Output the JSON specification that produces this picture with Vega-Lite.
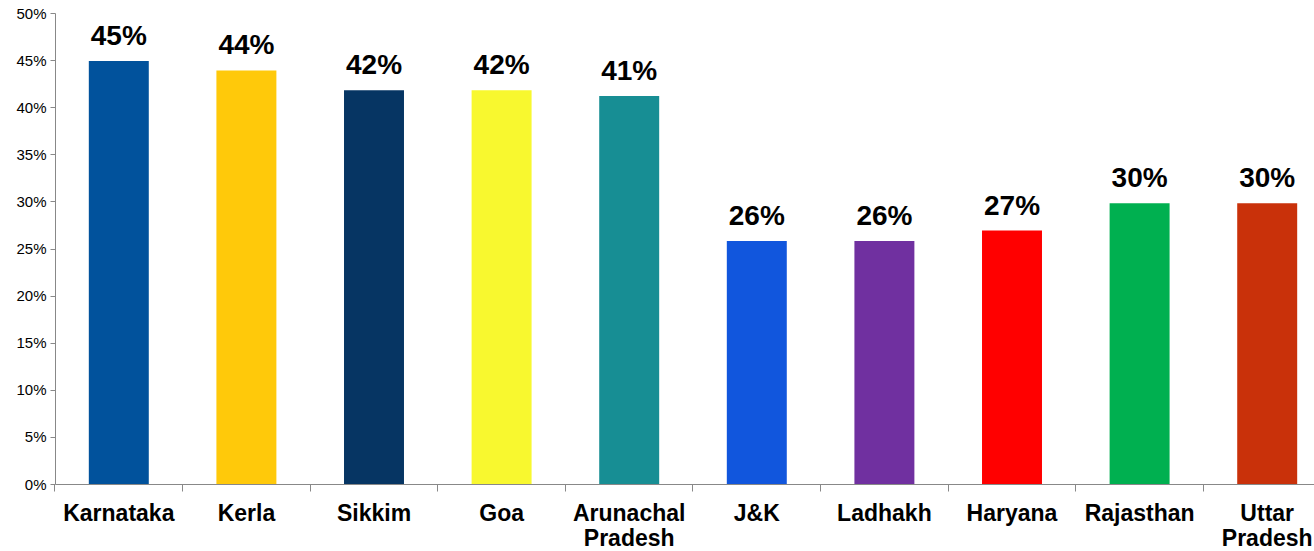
{
  "$schema": "https://vega.github.io/schema/vega-lite/v6.json",
  "autosize": "none",
  "width": 1255,
  "height": 471,
  "padding": {"left": 55, "top": 13, "right": 4, "bottom": 67},
  "background": "white",
  "config": {"view": {"stroke": null}, "font": "Liberation Sans"},
  "data": {"values": [
    {"state": "Karnataka", "share": 0.449, "color": "#01529C"},
    {"state": "Kerla", "share": 0.439, "color": "#FFC90A"},
    {"state": "Sikkim", "share": 0.418, "color": "#063563"},
    {"state": "Goa", "share": 0.418, "color": "#F8F82F"},
    {"state": "Arunachal Pradesh", "share": 0.412, "color": "#178E94"},
    {"state": "J&K", "share": 0.258, "color": "#1156DD"},
    {"state": "Ladhakh", "share": 0.258, "color": "#7030A0"},
    {"state": "Haryana", "share": 0.269, "color": "#FF0000"},
    {"state": "Rajasthan", "share": 0.298, "color": "#00B050"},
    {"state": "Uttar Pradesh", "share": 0.298, "color": "#C9310A"}
  ]},
  "encoding": {
    "x": {
      "field": "state", "type": "nominal", "sort": null,
      "scale": {"paddingInner": 0.53, "paddingOuter": 0.265, "range": [0, 1276]},
      "axis": {
        "title": null, "labelAngle": 0, "bandPosition": -0.564,
        "labelExpr": "split(datum.value, ' ')",
        "labelFont": "Liberation Sans", "labelFontSize": 23, "labelFontWeight": "bold",
        "labelColor": "black", "labelLineHeight": 25, "labelPadding": 11,
        "tickSize": 7, "tickColor": "#888888", "domainColor": "#888888",
        "labelBaseline": "top", "labelOverlap": false, "labelBound": false, "labelFlush": false
      }
    },
    "y": {
      "field": "share", "type": "quantitative",
      "scale": {"domain": [0, 0.5], "nice": false},
      "axis": {
        "title": null, "format": ".0%", "values": [0, 0.05, 0.1, 0.15, 0.2, 0.25, 0.3, 0.35, 0.4, 0.45, 0.5],
        "grid": false, "labelFont": "Liberation Sans", "labelFontSize": 15, "labelColor": "black",
        "tickSize": 5, "tickColor": "#888888", "domainColor": "#888888", "labelPadding": 4
      }
    }
  },
  "layer": [
    {
      "mark": {"type": "bar"},
      "encoding": {"color": {"field": "color", "type": "nominal", "scale": null}}
    },
    {
      "mark": {"type": "text", "baseline": "alphabetic", "dy": -16, "fontSize": 28, "fontWeight": "bold", "font": "Liberation Sans", "color": "black"},
      "encoding": {"text": {"field": "share", "type": "quantitative", "format": ".0%"}}
    }
  ]
}
